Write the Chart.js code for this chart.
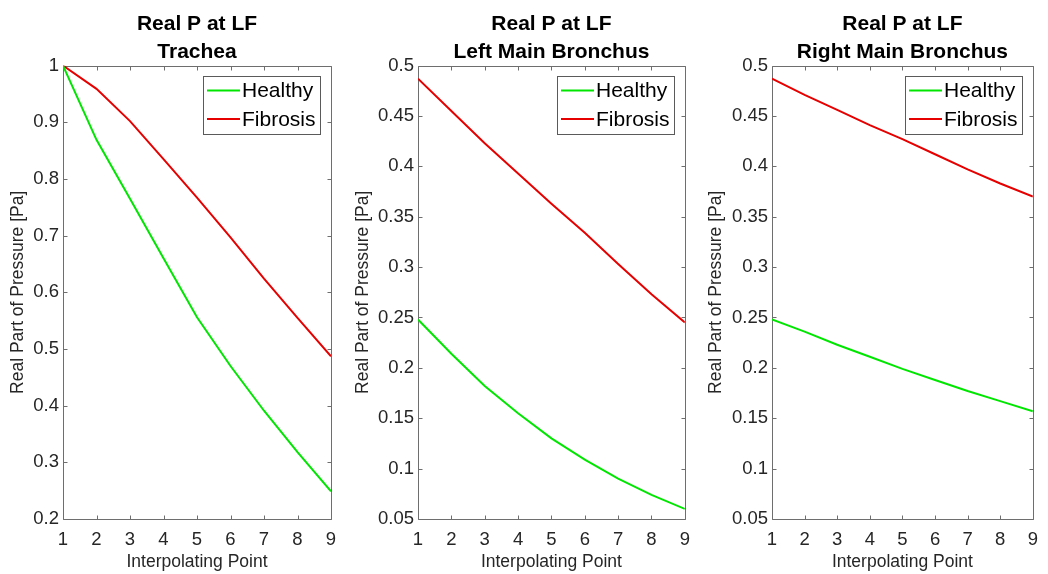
<!DOCTYPE html>
<html>
<head>
<meta charset="utf-8">
<title>Real P at LF</title>
<script src="https://cdn.jsdelivr.net/npm/chart.js@4.4.1/dist/chart.umd.min.js"></script>
<style>
  html, body { margin: 0; padding: 0; background: #fff; }
  #figure { position: relative; width: 1048px; height: 574px; overflow: hidden; background: #fff; }
  .panel { position: absolute; top: 0; height: 574px; }
</style>
</head>
<body>
<div id="figure">
  <div class="panel" style="left:0;width:350px"><canvas id="trachea"></canvas></div>
  <div class="panel" style="left:350px;width:350px"><canvas id="leftBronchus"></canvas></div>
  <div class="panel" style="left:700px;width:348px"><canvas id="rightBronchus"></canvas></div>
</div>
<script>
// interpolating points along each airway segment
const xPoints = [1, 2, 3, 4, 5, 6, 7, 8, 9];
const seriesNames = ["Healthy", "Fibrosis"];
const seriesColors = ["#00e600", "#e60000"];

// real part of pressure [Pa] at low frequency
const tracheaHealthy = [1.0, 0.869, 0.765, 0.66, 0.556, 0.47, 0.391, 0.318, 0.249];
const tracheaFibrosis = [1.0, 0.959, 0.902, 0.835, 0.767, 0.697, 0.624, 0.555, 0.487];
const leftHealthy = [0.248, 0.214, 0.182, 0.155, 0.13, 0.109, 0.09, 0.074, 0.06];
const leftFibrosis = [0.487, 0.455, 0.423, 0.393, 0.363, 0.334, 0.303, 0.273, 0.245];
const rightHealthy = [0.248, 0.236, 0.223, 0.211, 0.199, 0.188, 0.177, 0.167, 0.157];
const rightFibrosis = [0.487, 0.471, 0.456, 0.441, 0.427, 0.412, 0.397, 0.383, 0.37];

// y axis ranges: [min, max, step]
const tracheaRange = [0.2, 1, 0.1];
const bronchusRange = [0.05, 0.5, 0.05];

const FONT = "'Liberation Sans', Arial, Helvetica, sans-serif";
const TEXT = "#262626";

// box around the axes with short inward ticks on all four sides
const frameTicks = {
  id: "frameTicks",
  beforeDatasetsDraw(chart) {
    const { ctx, chartArea: a, scales: { x, y } } = chart;
    const L = Math.round(a.left) + 0.5;
    const R = Math.round(a.right) + 0.5;
    const T = Math.round(a.top) + 0.5;
    const B = Math.round(a.bottom) + 0.5;
    const len = 4;
    ctx.save();
    ctx.strokeStyle = "#6e6e6e";
    ctx.lineWidth = 1;
    ctx.beginPath();
    x.ticks.forEach((t) => {
      const px = Math.round(x.getPixelForValue(t.value)) + 0.5;
      ctx.moveTo(px, B); ctx.lineTo(px, B - len);
      ctx.moveTo(px, T); ctx.lineTo(px, T + len);
    });
    y.ticks.forEach((t) => {
      const py = Math.round(y.getPixelForValue(t.value)) + 0.5;
      ctx.moveTo(L, py); ctx.lineTo(L + len, py);
      ctx.moveTo(R, py); ctx.lineTo(R - len, py);
    });
    ctx.stroke();
    ctx.beginPath();
    ctx.rect(L, T, R - L, B - T);
    ctx.stroke();
    ctx.restore();
  }
};

// legend box in the upper right corner of the axes
const insetLegend = {
  id: "insetLegend",
  afterDatasetsDraw(chart) {
    const { ctx, chartArea: a } = chart;
    const w = 117, h = 58;
    const x0 = Math.round(a.right - 11 - w) + 0.5;
    const y0 = Math.round(a.top + 10) + 0.5;
    ctx.save();
    ctx.fillStyle = "#fff";
    ctx.strokeStyle = "#5a5a5a";
    ctx.lineWidth = 1;
    ctx.fillRect(x0, y0, w, h);
    ctx.strokeRect(x0, y0, w, h);
    ctx.font = "21px " + FONT;
    ctx.textBaseline = "middle";
    ctx.textAlign = "left";
    chart.data.datasets.forEach((ds, i) => {
      const ly = y0 + 14 + i * 28.6;
      ctx.strokeStyle = ds.borderColor;
      ctx.lineWidth = 2;
      ctx.beginPath();
      ctx.moveTo(x0 + 3.5, ly);
      ctx.lineTo(x0 + 36.5, ly);
      ctx.stroke();
      ctx.fillStyle = "#000";
      ctx.fillText(ds.label, x0 + 38.5, ly + 1);
    });
    ctx.restore();
  }
};

const fmtTick = (value) => String(Number(value.toFixed(2)));

function makePanel(id, name, healthy, fibrosis, range, axisWidth, padRight, yTitlePad) {
  return new Chart(document.getElementById(id), {
    type: "line",
    data: {
      labels: xPoints,
      datasets: [healthy, fibrosis].map((values, i) => ({
        label: seriesNames[i],
        data: values,
        borderColor: seriesColors[i],
        borderWidth: 2,
        pointRadius: 0,
        tension: 0,
        fill: false
      }))
    },
    options: {
      responsive: true,
      maintainAspectRatio: false,
      animation: false,
      layout: { padding: { left: 0, right: padRight, top: 0, bottom: 0 } },
      plugins: {
        legend: { display: false },
        tooltip: { enabled: false },
        title: {
          display: true,
          fullSize: false,
          text: ["Real P at LF", name],
          color: "#000",
          font: { family: FONT, size: 21, weight: "bold", lineHeight: 1.3 },
          padding: { top: 11, bottom: 0 }
        }
      },
      scales: {
        x: {
          type: "linear",
          min: 1,
          max: 9,
          grid: { display: false, drawTicks: false },
          border: { display: false },
          ticks: { stepSize: 1, padding: 10, color: TEXT, font: { family: FONT, size: 18.5 }, maxRotation: 0 },
          title: {
            display: true,
            text: "Interpolating Point",
            color: TEXT,
            font: { family: FONT, size: 17.5 },
            padding: { top: 0, bottom: 1 }
          },
          afterFit: (scale) => { scale.height = 55; }
        },
        y: {
          type: "linear",
          min: range[0],
          max: range[1],
          grid: { display: false, drawTicks: false },
          border: { display: false },
          ticks: { stepSize: range[2], padding: 4, color: TEXT, font: { family: FONT, size: 18.5 }, callback: fmtTick },
          title: {
            display: true,
            text: "Real Part of Pressure [Pa]",
            color: TEXT,
            font: { family: FONT, size: 17.5 },
            padding: { top: yTitlePad, bottom: 0 }
          },
          afterFit: (scale) => { scale.width = axisWidth; }
        }
      }
    },
    plugins: [frameTicks, insetLegend]
  });
}

makePanel("trachea", "Trachea", tracheaHealthy, tracheaFibrosis, tracheaRange, 63, 19, 8);
makePanel("leftBronchus", "Left Main Bronchus", leftHealthy, leftFibrosis, bronchusRange, 68, 15, 3);
makePanel("rightBronchus", "Right Main Bronchus", rightHealthy, rightFibrosis, bronchusRange, 72, 8, 6);
</script>
</body>
</html>
